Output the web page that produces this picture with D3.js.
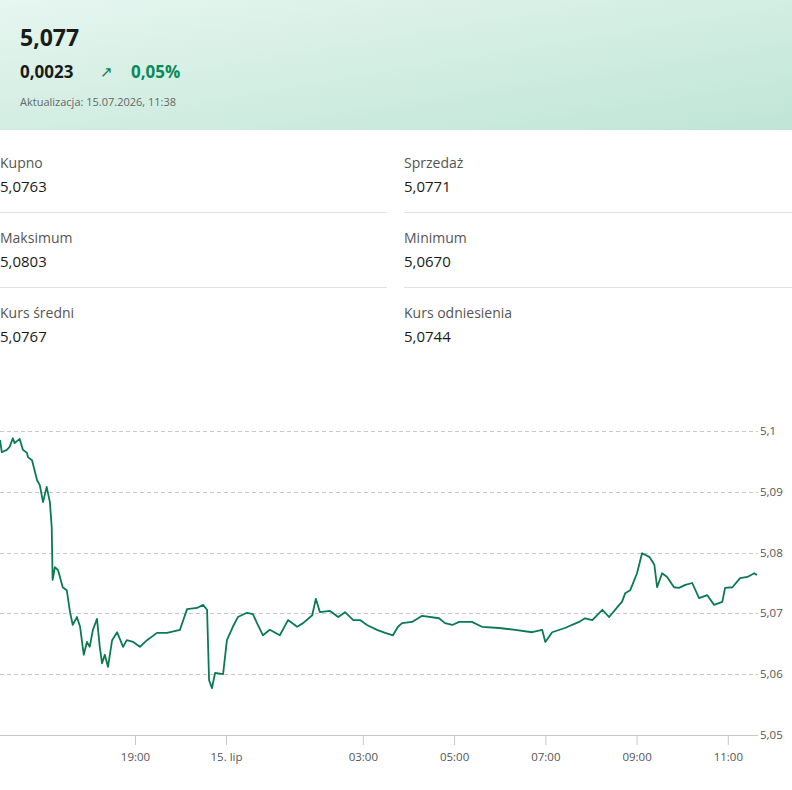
<!DOCTYPE html>
<html>
<head>
<meta charset="utf-8">
<script src="https://cdn.jsdelivr.net/npm/d3@7"></script>
<style>
  body { margin: 0; width: 792px; height: 790px; background: #fff; font-family: "Open Sans", sans-serif; overflow: hidden; }
  svg { display: block; }
</style>
</head>
<body>
<svg id="chart" width="792" height="790"></svg>
<script>
// hours counted from midnight of 14 July (24 = 00:00 on 15 July)
var times = [16.05,16.09,16.20,16.26,16.33,16.37,16.48,16.55,16.64,16.66,16.75,16.86,16.92,16.99,17.07,17.14,17.18,17.20,17.25,17.32,17.42,17.51,17.58,17.64,17.73,17.80,17.88,17.95,18.01,18.08,18.17,18.23,18.28,18.34,18.41,18.50,18.61,18.74,18.82,18.96,
  19.27,19.66,20.21,20.76,21.47,21.86,22.41,22.74,22.96,23.07,23.23,23.40,23.84,
  24.02,24.15,24.26,24.46,24.59,24.68,24.81,24.96,25.18,25.36,25.56,25.69,25.89,25.97,26.06,26.28,26.46,26.61,26.79,26.94,27.09,27.31,27.49,27.66,27.77,
  27.86,28.08,28.30,28.67,28.80,28.96,29.11,29.39,29.61,29.99,30.34,30.71,30.93,31.00,31.15,31.43,31.74,31.87,32.03,32.25,32.40,32.62,32.68,32.75,32.86,33.01,33.12,33.28,33.39,33.45,33.56,33.67,33.82,33.93,34.07,34.22,34.37,34.55,34.70,34.88,34.94,35.10,35.27,35.43,35.58,35.64];
var rates = [5.0985,5.0965,5.0969,5.0974,5.0988,5.0980,5.0987,5.0969,5.0964,5.0957,5.0952,5.0919,5.0911,5.0883,5.0908,5.0883,5.0842,5.0755,5.0776,5.0771,5.0743,5.0738,5.0702,5.0681,5.0694,5.0678,5.0632,5.0653,5.0645,5.0673,5.0691,5.0645,5.0618,5.0632,5.0612,5.0656,5.0669,5.0645,5.0656,5.0653,
  5.0645,5.0656,5.0668,5.0668,5.0673,5.0707,5.0709,5.0714,5.0706,5.0590,5.0577,5.0602,5.0600,
  5.0656,5.0678,5.0694,5.0701,5.0699,5.0684,5.0664,5.0673,5.0664,5.0689,5.0678,5.0684,5.0697,5.0724,5.0702,5.0704,5.0694,5.0702,5.0689,5.0689,5.0681,5.0673,5.0668,5.0664,5.0678,
  5.0684,5.0686,5.0696,5.0692,5.0684,5.0681,5.0686,5.0686,5.0678,5.0676,5.0673,5.0669,5.0673,5.0653,5.0669,5.0676,5.0686,5.0692,5.0689,5.0706,5.0694,5.0714,5.0719,5.0733,5.0738,5.0766,5.0799,5.0793,5.0780,5.0743,5.0766,5.0760,5.0743,5.0742,5.0747,5.0750,5.0725,5.0730,5.0714,5.0719,5.0742,5.0743,5.0758,5.0760,5.0766,5.0763];

var yTicks = [5.05, 5.06, 5.07, 5.08, 5.09, 5.1];
var xTicks = [19, 24, 27, 29, 31, 33, 35];
var xTickLabels = ["19:00", "15. lip", "03:00", "05:00", "07:00", "09:00", "11:00"];

var stats = [
  ["Kupno", "5,0763"], ["Sprzedaż", "5,0771"],
  ["Maksimum", "5,0803"], ["Minimum", "5,0670"],
  ["Kurs średni", "5,0767"], ["Kurs odniesienia", "5,0744"]
];

var svg = d3.select("#chart");
var comma = function(v) { return String(v).replace(".", ","); };

// header band
var defs = svg.append("defs");
var grad = defs.append("linearGradient").attr("id", "hdr")
  .attr("x1", "0%").attr("y1", "0%").attr("x2", "100%").attr("y2", "100%");
grad.append("stop").attr("offset", "0%").attr("stop-color", "#e6f6f0");
grad.append("stop").attr("offset", "100%").attr("stop-color", "#bfe5d5");
svg.append("rect").attr("width", 792).attr("height", 130).attr("fill", "url(#hdr)");

svg.append("text").attr("x", 20).attr("y", 46).text("5,077")
  .attr("font-size", 23).attr("font-weight", 700).attr("fill", "#1a1a1a");
svg.append("text").attr("x", 20).attr("y", 78).text("0,0023")
  .attr("font-size", 17).attr("font-weight", 700).attr("fill", "#1a1a1a");
svg.append("text").attr("x", 100).attr("y", 77).text("↗")
  .attr("font-size", 15).attr("fill", "#0a7d55");
svg.append("text").attr("x", 131).attr("y", 78).text("0,05%")
  .attr("font-size", 17).attr("font-weight", 700).attr("fill", "#0a8a5a");
svg.append("text").attr("x", 20).attr("y", 106).text("Aktualizacja: 15.07.2026, 11:38")
  .attr("font-size", 11).attr("fill", "#666");

// stats grid
stats.forEach(function(s, i) {
  var col = i % 2, row = Math.floor(i / 2);
  var x = col ? 404 : 0, y = 150 + row * 75;
  svg.append("text").attr("x", x).attr("y", y + 18).text(s[0]).attr("font-size", 14).attr("fill", "#555");
  svg.append("text").attr("x", x).attr("y", y + 42).text(s[1]).attr("font-size", 15).attr("fill", "#1a1a1a");
  if (row < 2) {
    svg.append("line").attr("x1", x).attr("x2", col ? 792 : 387)
      .attr("y1", y + 62.5).attr("y2", y + 62.5).attr("stroke", "#e2e2e2");
  }
});

// chart
var x = d3.scaleLinear().domain([16.05, 19, 24, 35.64]).range([0, 135, 226, 757]);
var y = d3.scaleLinear().domain([5.05, 5.1]).range([735, 431]);

svg.append("g").selectAll("line").data(yTicks.slice(1)).join("line")
  .attr("x1", 0).attr("x2", 758)
  .attr("y1", function(d) { return Math.round(y(d)) + 0.5; })
  .attr("y2", function(d) { return Math.round(y(d)) + 0.5; })
  .attr("stroke", "#c8c8c8").attr("stroke-dasharray", "4,3");

svg.append("g").selectAll("text").data(yTicks).join("text")
  .attr("x", 760).attr("y", function(d) { return y(d) + 4; })
  .text(comma).attr("font-size", 11.5).attr("fill", "#555");

var xa = svg.append("g").attr("transform", "translate(0,735)")
  .call(d3.axisBottom(x).tickValues(xTicks).tickSize(10)
    .tickFormat(function(d, i) { return xTickLabels[i]; }));
xa.select(".domain").attr("d", "M0,0.5H758").attr("stroke", "#c8c8c8");
xa.selectAll(".tick line").attr("stroke", "#c8c8c8");
xa.selectAll(".tick text").attr("font-family", "Open Sans").attr("font-size", 11.5)
  .attr("fill", "#555").attr("dy", "1.1em");

var line = d3.line().x(function(d) { return x(d[0]); }).y(function(d) { return y(d[1]); });
svg.append("path").datum(d3.zip(times, rates)).attr("d", line)
  .attr("fill", "none").attr("stroke", "#0b7a52").attr("stroke-width", 1.8)
  .attr("stroke-linejoin", "round");
</script>
</body>
</html>
